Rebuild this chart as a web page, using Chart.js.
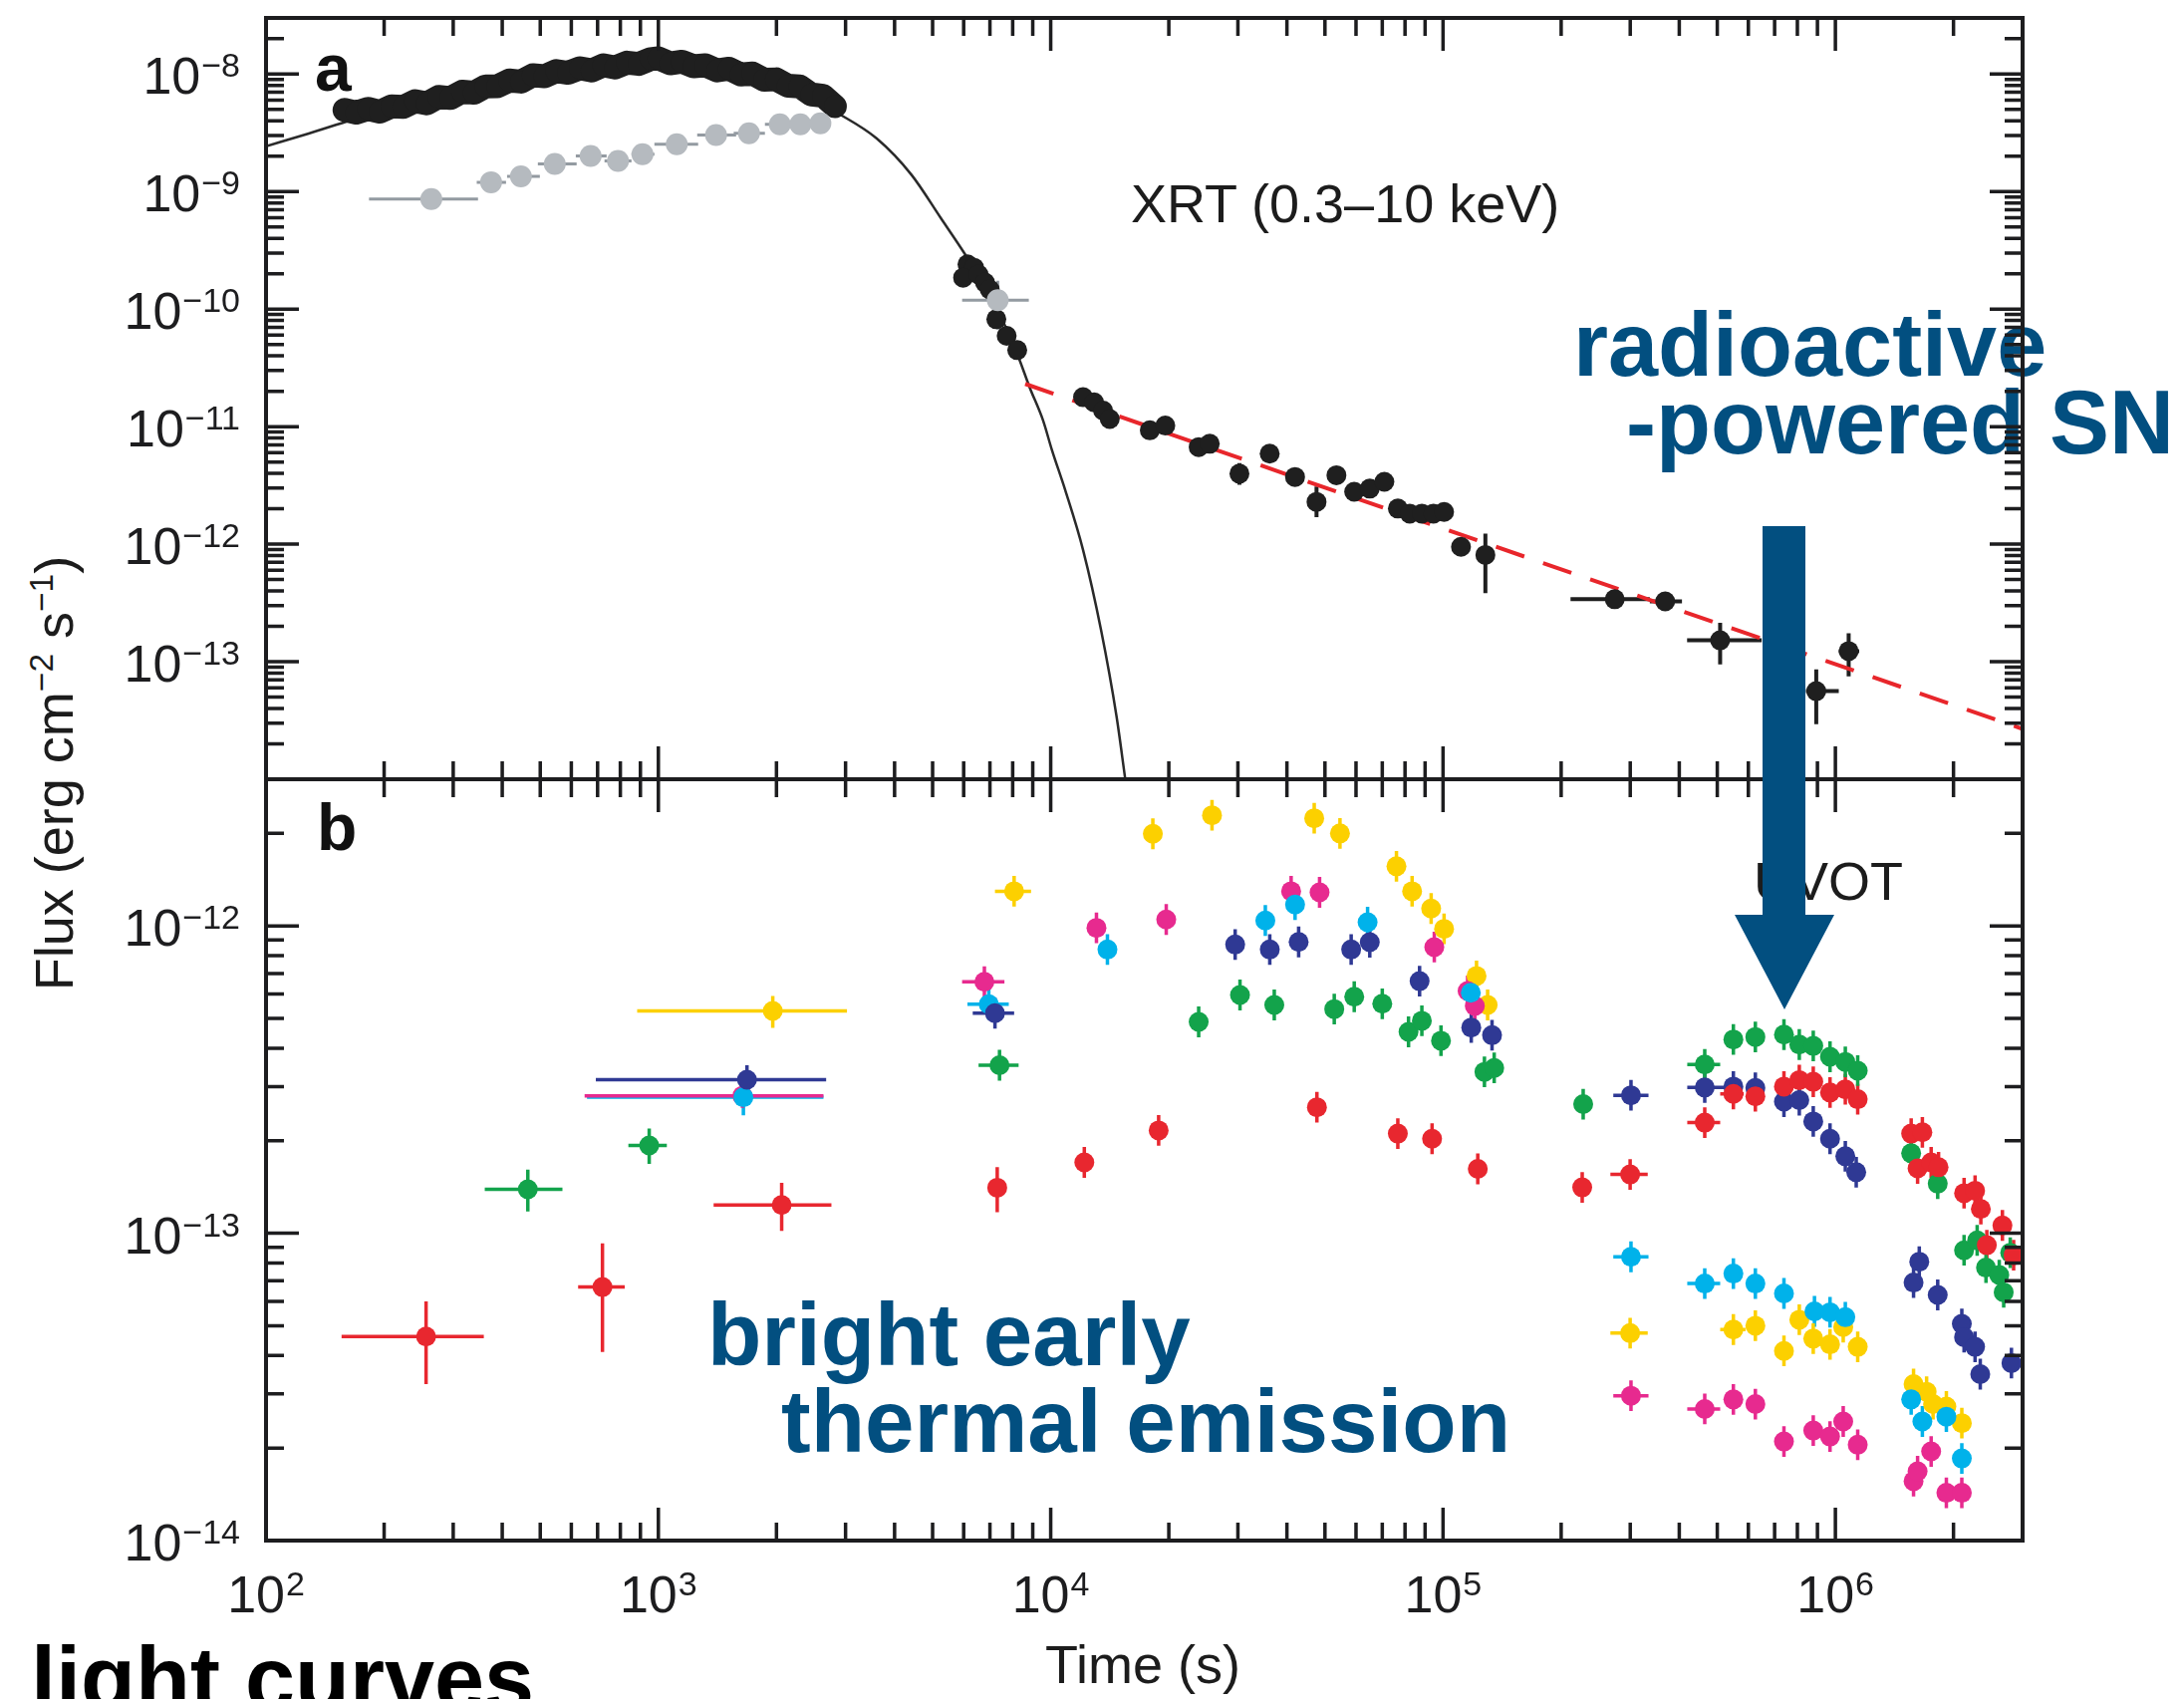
<!DOCTYPE html>
<html>
<head>
<meta charset="utf-8">
<title>XRT and UVOT light curves</title>
<script src="https://cdn.jsdelivr.net/npm/chart.js@4.4.1/dist/chart.umd.min.js"></script>
<style>
  html, body { margin: 0; padding: 0; background: #fff; }
  #fig { position: relative; width: 2192px; height: 1705px; overflow: hidden;
         font-family: "Liberation Sans", Arial, Helvetica, sans-serif; color: #1c1c1c; }
  #fig canvas { position: absolute; left: 0; top: 0; }
  .t { position: absolute; white-space: nowrap; line-height: 1; z-index: 1; }
  .note { font-weight: bold; font-size: 90px; color: #024f80; }
  .tag { font-weight: 900; font-size: 66px; color: #111; }
  .lab { font-size: 54px; }
  #ytitle { left: 54px; top: 776px; font-size: 54px; transform: translate(-50%, -50%) rotate(-90deg); }
  #ytitle sup { font-size: 0.62em; line-height: 0; vertical-align: 0; position: relative; top: -0.6em; }
  #arrow { position: absolute; left: 0; top: 0; z-index: 5; }
</style>
</head>
<body>
<div id="fig">
  <div class="t tag" style="left:316px; top:35px">a</div>
  <div class="t tag" style="left:318px; top:797px">b</div>
  <div class="t lab" style="left:1135px; top:177px">XRT (0.3–10 keV)</div>
  <div class="t lab" style="left:1760px; top:857px">UVOT</div>
  <div class="t lab" style="left:1049px; top:1643px">Time (s)</div>
  <div class="t" id="ytitle">Flux (erg cm<sup>−2</sup> s<sup>−1</sup>)</div>
  <div class="t note" style="left:1579px; top:301px">radioactive</div>
  <div class="t note" style="left:1632px; top:379px">-powered SN</div>
  <div class="t note" style="left:710px; top:1295px; font-size:89px">bright early</div>
  <div class="t note" style="left:784px; top:1382px; font-size:89px">thermal emission</div>
  <div class="t note" style="left:31px; top:1640px; color:#000">light curves</div>
  <canvas id="panelA" width="2192" height="1705" style="z-index:2"></canvas>
  <canvas id="panelB" width="2192" height="1705" style="z-index:3"></canvas>
  <svg id="arrow" width="2192" height="1705">
    <polygon points="1769,528 1812,528 1812,918 1841,918 1791,1013 1741,918 1769,918" fill="#024f80"/>
  </svg>
</div>

<script>
// ---- panel a: XRT (0.3-10 keV) ----
// WT-mode dense light curve [time s]
const wtTime = [158.5, 169.8, 182, 195, 208.9, 223.9, 239.9, 257, 275.4, 295.1, 316.2, 338.8, 363.1,
  389, 416.9, 446.7, 478.6, 512.9, 549.5, 588.8, 631, 676.1, 724.4, 776.2, 831.8, 891.3, 955, 1000,
  1071.5, 1148, 1230, 1318, 1413, 1514, 1622, 1738, 1862, 1995, 2138, 2291, 2455, 2630, 2818];
const wtFlux = [4.95e-9, 4.70e-9, 5.05e-9, 4.78e-9, 5.30e-9, 5.25e-9, 5.88e-9, 5.63e-9, 6.38e-9,
  6.25e-9, 7.07e-9, 6.93e-9, 7.85e-9, 7.87e-9, 8.80e-9, 8.62e-9, 9.77e-9, 9.57e-9, 1.06e-8, 1.025e-8,
  1.12e-8, 1.073e-8, 1.188e-8, 1.137e-8, 1.25e-8, 1.218e-8, 1.339e-8, 1.36e-8, 1.233e-8, 1.273e-8,
  1.163e-8, 1.188e-8, 1.073e-8, 1.109e-8, 9.90e-9, 1.011e-8, 8.93e-9, 9.01e-9, 7.95e-9, 7.85e-9,
  6.70e-9, 6.53e-9, 5.32e-9];

// [time, flux, timeLo, timeHi, fluxLo, fluxHi]
const pcPoints = [
  [6136, 2.40e-10], [6378, 2.25e-10], [5980, 1.85e-10], [6548, 1.97e-10], [6800, 1.68e-10],
  [6992, 1.47e-10], [7268, 8.2e-11], [7722, 5.93e-11], [8216, 4.48e-11],
  [12090, 1.78e-11], [12900, 1.61e-11], [13600, 1.37e-11], [14140, 1.16e-11],
  [17890, 9.3e-12], [19590, 1.02e-11], [23830, 6.7e-12], [25430, 7.15e-12],
  [30270, 3.98e-12, 0, 0, 3.2e-12, 4.9e-12], [36150, 5.89e-12], [41950, 3.73e-12],
  [47590, 2.29e-12, 0, 0, 1.7e-12, 3.1e-12], [53490, 3.86e-12], [59360, 2.79e-12],
  [65040, 2.97e-12], [70860, 3.39e-12], [76700, 2.01e-12], [82250, 1.82e-12], [88300, 1.82e-12],
  [94500, 1.82e-12], [100600, 1.88e-12], [111100, 9.5e-13],
  [128200, 8.1e-13, 0, 0, 3.83e-13, 1.23e-12],
  [273900, 3.40e-13, 211300, 336500], [368300, 3.26e-13, 336500, 406400],
  [508400, 1.52e-13, 418800, 648800, 9.5e-14, 2.14e-13],
  [893700, 5.62e-14, 841400, 1.02e6, 2.94e-14, 8.6e-14],
  [1.081e6, 1.23e-13, 1.02e6, 1.15e6, 7.5e-14, 1.75e-13]
];

const greyPoints = [
  [263.8, 8.64e-10, 183, 347], [374.6, 1.20e-9, 344.4, 409], [446.3, 1.345e-9, 411.5, 498.8],
  [544.5, 1.72e-9, 493, 619], [672, 2.01e-9, 616, 738], [789, 1.82e-9, 729, 854],
  [911, 2.08e-9, 854, 977], [1114, 2.53e-9, 977, 1263], [1403, 3.03e-9, 1256, 1578],
  [1702, 3.13e-9, 1556, 1869], [2040, 3.73e-9, 1869, 2188], [2301, 3.73e-9, 2188, 2431],
  [2588, 3.81e-9, 2431, 2726], [7328, 1.19e-10, 5946, 8794, 6.7e-11, 1.743e-10]
];

// model curves
const modelTime = [100, 128.5, 165, 200, 300, 500, 1000, 2000, 2871, 3597, 4416, 5245, 6057, 6901,
  7760, 8283, 8837, 9561, 10077, 10890, 12090, 13430, 14710, 15490];
const modelFlux = [2.43e-9, 3.12e-9, 4.06e-9, 4.9e-9, 6.5e-9, 9.6e-9, 1.25e-8, 9.0e-9, 4.63e-9,
  2.84e-9, 1.39e-9, 5.96e-10, 2.91e-10, 1.426e-10, 6.54e-11, 3.88e-11, 2.16e-11, 1.13e-11, 6.29e-12,
  2.88e-12, 8.93e-13, 1.875e-13, 3.45e-14, 1e-14];
const powerLawTime = [8610, 3e6];
const powerLawFlux = [2.31e-11, 2.68e-14];

// ---- panel b: UVOT ----
const uvotV = [
  [255.8, 4.61e-14, 155.8, 359, 3.23e-14, 6.0e-14], [720.3, 6.68e-14, 624.4, 820.9, 4.11e-14, 9.27e-14],
  [2062, 1.236e-13, 1383, 2761, 1.017e-13, 1.46e-13], [7306, 1.406e-13, 0, 0, 1.17e-13, 1.64e-13],
  [12180, 1.70e-13], [18840, 2.16e-13], [47700, 2.57e-13], [76690, 2.11e-13], [93760, 2.03e-13],
  [122600, 1.62e-13], [226300, 1.41e-13], [299800, 1.553e-13, 267000, 332400],
  [464500, 2.29e-13, 419200, 508600], [549500, 2.84e-13, 508600, 584000], [625200, 2.79e-13],
  [739400, 3.0e-13], [809100, 3.15e-13], [878200, 3.11e-13], [969000, 2.87e-13], [1.06e6, 2.94e-13],
  [1.14e6, 2.73e-13], [1.56e6, 2.11e-13], [1.666e6, 2.13e-13], [1.62e6, 1.625e-13], [1.754e6, 1.70e-13],
  [1.832e6, 1.64e-13], [2.128e6, 1.35e-13], [2.27e6, 1.375e-13], [2.348e6, 1.199e-13],
  [2.432e6, 9.14e-14], [2.665e6, 1.06e-13], [2.846e6, 8.48e-14]
];
const uvotB = [
  [464.8, 1.39e-13, 361, 569.5, 1.178e-13, 1.61e-13], [947.6, 1.93e-13, 838.6, 1051, 1.68e-13, 2.19e-13],
  [7405, 3.52e-13, 6548, 8283], [23830, 4.87e-13], [30370, 5.96e-13], [37140, 5.53e-13],
  [52810, 5.36e-13], [59380, 5.88e-13], [70000, 5.58e-13], [81660, 4.52e-13], [88300, 4.91e-13],
  [98790, 4.23e-13], [127500, 3.35e-13], [135000, 3.45e-13], [227600, 2.63e-13],
  [464500, 3.54e-13, 419200, 508600], [549500, 4.27e-13], [625200, 4.35e-13], [739400, 4.43e-13],
  [809100, 4.11e-13], [878200, 4.07e-13], [969000, 3.75e-13], [1.06e6, 3.61e-13], [1.14e6, 3.38e-13],
  [1.56e6, 1.82e-13], [1.823e6, 1.45e-13], [2.128e6, 8.8e-14], [2.298e6, 9.48e-14], [2.42e6, 7.73e-14],
  [2.616e6, 7.31e-14], [2.685e6, 6.42e-14], [2.79e6, 8.64e-14]
];
const uvotU = [
  [1682, 3.16e-13, 692.8, 2677, 2.84e-13, 3.52e-13], [7210, 5.2e-13, 6328, 8068], [29520, 8.70e-13],
  [36170, 8.38e-13], [42850, 8.87e-13], [58320, 8.38e-13], [65050, 8.85e-13], [87130, 6.61e-13],
  [118000, 4.67e-13], [133300, 4.41e-13], [301300, 2.81e-13, 271600, 333900],
  [464500, 2.98e-13, 419200, 528000], [549500, 3.0e-13], [625200, 2.97e-13], [739400, 2.68e-13],
  [809100, 2.71e-13], [878200, 2.31e-13], [969000, 2.03e-13], [1.06e6, 1.78e-13], [1.13e6, 1.58e-13],
  [1.636e6, 8.08e-14], [1.582e6, 6.91e-14], [1.823e6, 6.30e-14], [2.1e6, 5.07e-14], [2.128e6, 4.59e-14],
  [2.27e6, 4.27e-14], [2.34e6, 3.48e-14], [2.81e6, 3.78e-14]
];
const uvotW1 = [
  [1647, 2.77e-13, 657.7, 2635, 2.42e-13, 3.12e-13], [6953, 5.56e-13, 6134, 7818], [13950, 8.38e-13],
  [35240, 1.041e-12], [41960, 1.173e-12], [64220, 1.028e-12], [117700, 6.06e-13],
  [301300, 8.38e-14, 271600, 333900], [464500, 6.86e-14, 419200, 508600], [549500, 7.39e-14],
  [625200, 6.86e-14], [739400, 6.37e-14], [884500, 5.57e-14], [969000, 5.53e-14], [1.06e6, 5.33e-14],
  [1.56e6, 2.88e-14], [1.666e6, 2.44e-14], [1.918e6, 2.53e-14], [2.1e6, 1.85e-14]
];
const uvotW2 = [
  [1957, 5.29e-13, 883, 3025, 4.66e-13, 5.92e-13], [8068, 1.296e-12, 7210, 8910], [18210, 1.994e-12],
  [25770, 2.29e-12], [46950, 2.24e-12], [54610, 2.0e-12], [76070, 1.563e-12], [83390, 1.296e-12],
  [93250, 1.139e-12], [100600, 9.78e-13], [121700, 6.87e-13], [129900, 5.53e-13],
  [299800, 4.73e-14, 267000, 332400], [549500, 4.86e-14, 508600, 590000], [625200, 5.0e-14],
  [739400, 4.14e-14], [809100, 5.23e-14], [878200, 4.54e-14], [969000, 4.35e-14], [1.047e6, 4.95e-14],
  [1.14e6, 4.27e-14], [1.582e6, 3.23e-14], [1.708e6, 3.05e-14], [1.774e6, 2.78e-14],
  [1.918e6, 2.73e-14], [2.1e6, 2.41e-14]
];
const uvotM2 = [
  [1638, 2.80e-13, 648.6, 2635, 2.56e-13, 3.05e-13], [6776, 6.58e-13, 5945, 7622], [13080, 9.85e-13],
  [19700, 1.049e-12], [41000, 1.296e-12], [48450, 1.286e-12], [94990, 8.53e-13], [115500, 6.14e-13],
  [120500, 5.49e-13], [301300, 2.96e-14, 271600, 333900], [464500, 2.68e-14, 419200, 508600],
  [549500, 2.88e-14], [625200, 2.78e-14], [739400, 2.10e-14], [878200, 2.28e-14], [969000, 2.18e-14],
  [1.047e6, 2.44e-14], [1.14e6, 2.05e-14], [1.582e6, 1.56e-14], [1.62e6, 1.68e-14],
  [1.754e6, 1.95e-14], [1.918e6, 1.43e-14], [2.1e6, 1.43e-14]
];

const xLabelExps = [2, 3, 4, 5, 6];
const yLabelExpsA = [-8, -9, -10, -11, -12, -13];
const yLabelExpsB = [-12, -13, -14];

const INK = '#1d1d1f';
const BASE_FONT = '52px "Liberation Sans", Arial, sans-serif';
const SUP_FONT = '34px "Liberation Sans", Arial, sans-serif';

// tuples -> points with error bar ends; dex is the default half-size of the flux bar
function toPoints(list, dex) {
  return list.map(([t, f, tLo, tHi, fLo, fHi]) => ({
    x: t, y: f,
    xMin: tLo || null, xMax: tHi || null,
    yMin: fLo || f / Math.pow(10, dex), yMax: fHi || f * Math.pow(10, dex)
  }));
}

function drawErrorBars(chart) {
  const { ctx, chartArea: a, scales: { x, y } } = chart;
  ctx.save();
  ctx.beginPath();
  ctx.rect(a.left, a.top, a.right - a.left, a.bottom - a.top);
  ctx.clip();
  chart.data.datasets.forEach(ds => {
    if (!ds.errorBars) return;
    ctx.strokeStyle = ds.errorColor || ds.backgroundColor;
    ctx.lineWidth = ds.errorWidth || 3;
    ctx.beginPath();
    ds.data.forEach(p => {
      const px = x.getPixelForValue(p.x), py = y.getPixelForValue(p.y);
      if (p.xMin) {
        ctx.moveTo(x.getPixelForValue(p.xMin), py);
        ctx.lineTo(x.getPixelForValue(p.xMax), py);
      }
      ctx.moveTo(px, y.getPixelForValue(p.yMin));
      ctx.lineTo(px, y.getPixelForValue(p.yMax));
    });
    ctx.stroke();
  });
  ctx.restore();
}

function powLabel(ctx, exp, x, y, align) {
  const sup = exp < 0 ? '\u2212' + (-exp) : String(exp);
  ctx.font = BASE_FONT;
  const wb = ctx.measureText('10').width;
  ctx.font = SUP_FONT;
  const ws = ctx.measureText(sup).width;
  const left = align === 'right' ? x - wb - ws - 1 : x - (wb + ws + 1) / 2;
  ctx.textAlign = 'left';
  ctx.textBaseline = 'alphabetic';
  ctx.font = BASE_FONT;
  ctx.fillText('10', left, y);
  ctx.font = SUP_FONT;
  ctx.fillText(sup, left + wb + 1, y - 17);
}

function drawAxes(chart, opts) {
  const { ctx, chartArea: a, scales: { x, y } } = chart;
  const major = 33, minor = 18;
  ctx.save();
  ctx.strokeStyle = INK;
  ctx.fillStyle = INK;
  ctx.lineWidth = 3.5;
  ctx.beginPath();
  for (let e = 2; e <= 6; e++) {
    for (let m = 1; m <= 9; m++) {
      const v = Number(m + 'e' + e);
      if (v <= x.min || v >= x.max) continue;
      const px = x.getPixelForValue(v), len = m === 1 ? major : minor;
      ctx.moveTo(px, a.top); ctx.lineTo(px, a.top + len);
      ctx.moveTo(px, a.bottom); ctx.lineTo(px, a.bottom - len);
    }
  }
  for (let e = -14; e <= -8; e++) {
    for (let m = 1; m <= 9; m++) {
      const v = Number(m + 'e' + e);
      if (v <= y.min * 1.0001 || v >= y.max) continue;
      const py = y.getPixelForValue(v), len = m === 1 ? major : minor;
      ctx.moveTo(a.left, py); ctx.lineTo(a.left + len, py);
      ctx.moveTo(a.right, py); ctx.lineTo(a.right - len, py);
    }
  }
  ctx.stroke();
  ctx.lineWidth = 4;
  ctx.strokeRect(a.left, a.top, a.right - a.left, a.bottom - a.top);

  opts.yLabels.forEach(e => powLabel(ctx, e, a.left - 26, y.getPixelForValue(Number('1e' + e)) + 20, 'right'));
  if (opts.xLabels) {
    opts.xLabels.forEach(e => powLabel(ctx, e, x.getPixelForValue(Number('1e' + e)), a.bottom + 72, 'center'));
  }
  ctx.restore();
}

const axesPlugin = {
  id: 'axes',
  beforeDatasetsDraw(chart) { drawErrorBars(chart); },
  afterDraw(chart, args, opts) { drawAxes(chart, opts); }
};

function makePanel(canvasId, yMin, yMax, padding, datasets, axesOpts) {
  return new Chart(document.getElementById(canvasId), {
    type: 'scatter',
    data: { datasets },
    options: {
      responsive: false,
      devicePixelRatio: 1,
      animation: false,
      events: [],
      layout: { padding },
      scales: {
        x: { type: 'logarithmic', min: 100, max: 3e6, display: false },
        y: { type: 'logarithmic', min: yMin, max: yMax, display: false }
      },
      plugins: { legend: { display: false }, tooltip: { enabled: false }, axes: axesOpts }
    },
    plugins: [axesPlugin]
  });
}

function uvotSet(label, list, color, order) {
  return {
    label, data: toPoints(list, 0.05), order,
    backgroundColor: color, borderColor: color, borderWidth: 0, pointRadius: 10,
    errorBars: true, errorColor: color, errorWidth: 3.5
  };
}

makePanel('panelA', 1e-14, 3e-8, { left: 267, right: 162, top: 18, bottom: 923 }, [
  {
    type: 'line', label: 'model', order: 6,
    data: modelTime.map((t, i) => ({ x: t, y: modelFlux[i] })),
    borderColor: '#2a2a2a', borderWidth: 2.5, pointRadius: 0, fill: false,
    cubicInterpolationMode: 'monotone'
  },
  {
    type: 'line', label: 'power law', order: 5,
    data: powerLawTime.map((t, i) => ({ x: t, y: powerLawFlux[i] })),
    borderColor: '#e8262b', borderWidth: 4, borderDash: [30, 20], pointRadius: 0, fill: false
  },
  {
    // dense WT data: points joined into a solid band, as in the original
    type: 'line', label: 'XRT WT', order: 4,
    data: wtTime.map((t, i) => ({ x: t, y: wtFlux[i] })),
    borderColor: '#1f1f1f', borderWidth: 24, borderJoinStyle: 'round', borderCapStyle: 'round',
    backgroundColor: '#1f1f1f', pointBorderWidth: 0, pointRadius: 11, fill: false, tension: 0
  },
  {
    label: 'XRT PC', order: 3, data: toPoints(pcPoints, 0.07),
    backgroundColor: '#1f1f1f', borderWidth: 0, pointRadius: 10,
    errorBars: true, errorColor: '#1f1f1f', errorWidth: 4
  },
  {
    label: 'UVOT white', order: 2, data: toPoints(greyPoints, 0.03),
    backgroundColor: '#b5babf', borderWidth: 0, pointRadius: 11,
    errorBars: true, errorColor: '#939aa1', errorWidth: 3
  }
], { yLabels: yLabelExpsA });

makePanel('panelB', 1e-14, 3e-12, { left: 267, right: 162, top: 782, bottom: 159 }, [
  uvotSet('V', uvotV, '#e8272f', 1),
  uvotSet('U', uvotU, '#2f3994', 2),
  uvotSet('B', uvotB, '#13a34b', 3),
  uvotSet('UVW1', uvotW1, '#00b2ea', 4),
  uvotSet('UVM2', uvotM2, '#e72a8f', 5),
  uvotSet('UVW2', uvotW2, '#fcd000', 6)
], { yLabels: yLabelExpsB, xLabels: xLabelExps });
</script>
</body>
</html>
